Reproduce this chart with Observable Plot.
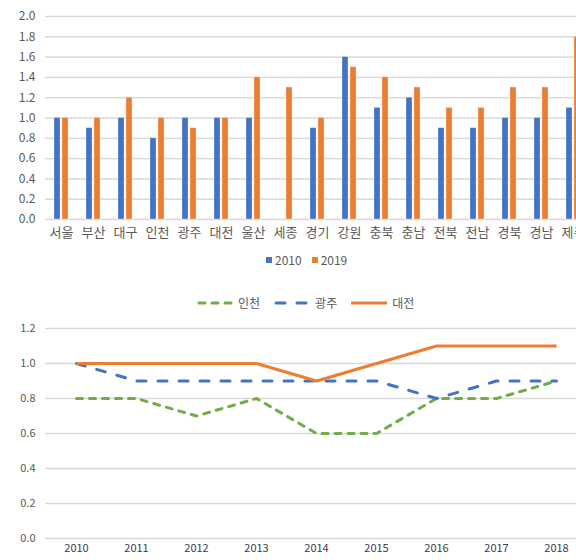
<!DOCTYPE html>
<html>
<head>
<meta charset="utf-8">
<script src="https://cdn.jsdelivr.net/npm/d3@7"></script>
<script src="https://cdn.jsdelivr.net/npm/@observablehq/plot@0.6"></script>
<style>
  html, body { margin: 0; padding: 0; background: #fff; }
  #wrap { position: relative; width: 576px; height: 560px; overflow: hidden; font-family: "Noto Sans CJK KR", "Noto Sans", sans-serif; }
  .abs { position: absolute; }
  #c1, #c2 { width: 600px; }
  #c1 svg, #c2 svg { max-width: none !important; }
  .legend { display: flex; align-items: center; font-size: 12px; color: #595959; white-space: nowrap; }
  .legend .item { display: flex; align-items: center; }
</style>
</head>
<body>
<div id="wrap">
  <div id="c1" class="abs" style="left:0;top:0"></div>
  <div id="l1" class="abs legend" style="left:266px;top:251px"></div>
  <div id="l2" class="abs legend" style="left:197px;top:294px"></div>
  <div id="c2" class="abs" style="left:0;top:315px"></div>
</div>
<script>
// ---------- Data: top chart ----------
const regions = ["서울","부산","대구","인천","광주","대전","울산","세종","경기","강원","충북","충남","전북","전남","경북","경남","제주"];
const barSeries = ["2010", "2019"];
const values2010 = [1.0, 0.9, 1.0, 0.8, 1.0, 1.0, 1.0, null, 0.9, 1.6, 1.1, 1.2, 0.9, 0.9, 1.0, 1.0, 1.1];
const values2019 = [1.0, 1.0, 1.2, 1.0, 0.9, 1.0, 1.4, 1.3, 1.0, 1.5, 1.4, 1.3, 1.1, 1.1, 1.3, 1.3, 1.8];
const barColors = ["#4472C4", "#ED7D31"];
const barTicks = [0, 0.2, 0.4, 0.6, 0.8, 1.0, 1.2, 1.4, 1.6, 1.8, 2.0];

// ---------- Data: bottom chart ----------
const years = ["2010","2011","2012","2013","2014","2015","2016","2017","2018"];
const lineSeries = ["인천", "광주", "대전"];
const incheon = [0.8, 0.8, 0.7, 0.8, 0.6, 0.6, 0.8, 0.8, 0.9];
const gwangju = [1.0, 0.9, 0.9, 0.9, 0.9, 0.9, 0.8, 0.9, 0.9];
const daejeon = [1.0, 1.0, 1.0, 1.0, 0.9, 1.0, 1.1, 1.1, 1.1];
const lineColors = ["#70AD47", "#4472C4", "#ED7D31"];
const lineDash = ["6,7", "9,12", null];
const lineTicks = [0, 0.2, 0.4, 0.6, 0.8, 1.0, 1.2];

const textColor = "#595959";
const gridColor = "#d9d9d9";
const font = '"Noto Sans CJK KR", "Noto Sans", sans-serif';

// ---------- Top: grouped bars ----------
const barData = [];
regions.forEach((r, i) => {
  [values2010, values2019].forEach((arr, k) => {
    if (arr[i] != null) barData.push({region: r, series: barSeries[k], value: arr[i]});
  });
});

const chart1 = Plot.plot({
  width: 590,
  height: 245,
  marginLeft: 45,
  marginRight: 1,
  marginTop: 16,
  marginBottom: 26,
  style: {fontFamily: font, fontSize: "12px", color: textColor, background: "transparent", maxWidth: "none"},
  fx: {domain: regions, padding: 0, label: null},
  x: {domain: barSeries, paddingInner: 0.22, paddingOuter: 0.89, axis: null},
  y: {domain: [0, 2.0], ticks: barTicks, label: null},
  color: {domain: barSeries, range: barColors},
  marks: [
    Plot.gridY(barTicks, {stroke: gridColor, strokeOpacity: 1, strokeWidth: 1.5}),
    Plot.axisY(barTicks, {tickSize: 0, tickPadding: 10, tickFormat: d3.format(".1f"), fill: textColor, fontSize: 12, label: null}),
    Plot.axisFx({anchor: "bottom", tickSize: 0, tickPadding: 8, fill: textColor, fontSize: 13, label: null}),
    Plot.barY(barData, {fx: "region", x: "series", y: "value", fill: "series", stroke: "white", strokeOpacity: 0.5, strokeWidth: 0.6})
  ]
});
document.getElementById("c1").append(chart1);

// legend 1
const l1 = document.getElementById("l1");
barSeries.forEach((s, i) => {
  const item = document.createElement("div");
  item.className = "item";
  item.style.marginRight = i === 0 ? "10px" : "0";
  item.innerHTML = `<svg width="7" height="7" style="margin-right:2px"><rect width="6" height="6" y="1" fill="${barColors[i]}"/></svg><span>${s}</span>`;
  l1.append(item);
});

// ---------- Bottom: lines ----------
const lineValues = [incheon, gwangju, daejeon];
const lineData = [];
lineSeries.forEach((s, k) => {
  years.forEach((y, i) => lineData.push({series: s, year: y, value: lineValues[k][i]}));
});

const chart2 = Plot.plot({
  width: 588,
  height: 245,
  marginLeft: 45,
  marginRight: 1,
  marginTop: 13,
  marginBottom: 22,
  style: {fontFamily: font, fontSize: "11px", color: textColor, background: "transparent", maxWidth: "none"},
  x: {type: "point", domain: years, padding: 0.5, label: null},
  y: {domain: [0, 1.2], ticks: lineTicks, label: null},
  marks: [
    Plot.gridY(lineTicks, {stroke: gridColor, strokeOpacity: 1, strokeWidth: 1.5}),
    Plot.axisY(lineTicks, {tickSize: 0, tickPadding: 10, tickFormat: d3.format(".1f"), fill: textColor, fontSize: 11, label: null}),
    Plot.axisX({tickSize: 0, tickPadding: 6, fill: "#404040", fontSize: 11, label: null}),
    ...lineSeries.map((s, k) => Plot.line(lineData.filter(d => d.series === s), {
      x: "year", y: "value", stroke: lineColors[k], strokeWidth: 3,
      strokeDasharray: lineDash[k] || undefined, strokeLinecap: lineDash[k] ? "round" : "butt", strokeLinejoin: "round"
    }))
  ]
});
document.getElementById("c2").append(chart2);

// legend 2
const l2 = document.getElementById("l2");
lineSeries.forEach((s, k) => {
  const item = document.createElement("div");
  item.className = "item";
  item.style.marginRight = k < 2 ? "14px" : "0";
  const dash = lineDash[k] ? `stroke-dasharray="${lineDash[k]}" stroke-linecap="round"` : "";
  item.innerHTML = `<svg width="36" height="10" style="margin-right:5px"><line x1="${lineDash[k] ? 2 : 0}" x2="${lineDash[k] ? 34 : 36}" y1="5" y2="5" stroke="${lineColors[k]}" stroke-width="3" ${dash}/></svg><span>${s}</span>`;
  l2.append(item);
});
</script>
</body>
</html>
